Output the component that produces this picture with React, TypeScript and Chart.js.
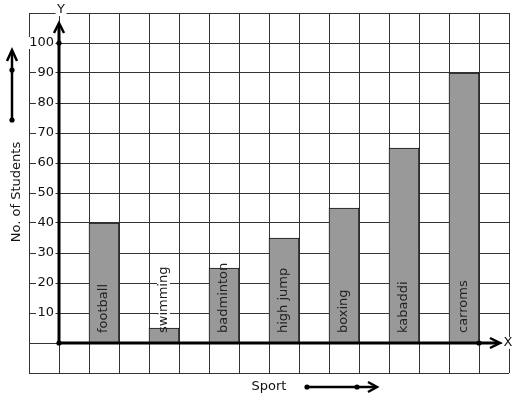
import { useEffect, useRef } from 'react';
import { Chart, registerables } from 'chart.js';

Chart.register(...registerables);

const sports = ['football', 'swimming', 'badminton', 'high jump', 'boxing', 'kabaddi', 'carroms'];
const students = [40, 5, 25, 35, 45, 65, 90];
const yTickValues = [10, 20, 30, 40, 50, 60, 70, 80, 90, 100];
const yAxisTitle = 'No. of Students';
const xAxisTitle = 'Sport';

export default function App() {
  const ref = useRef<HTMLCanvasElement>(null);

  useEffect(() => {
    const FONT = '13px "DejaVu Sans"';
    const INK = '#111';

    const paper = {
      id: 'paper',
      beforeDatasetsDraw(chart: any) {
        // white backdrops behind bar labels (covered by bars where they overlap)
        const ctx = chart.ctx as CanvasRenderingContext2D;
        const xs = chart.scales.x;
        const ys = chart.scales.y;
        const y0 = Math.round(ys.getPixelForValue(0));
        ctx.save();
        ctx.font = FONT;
        ctx.fillStyle = '#fff';
        sports.forEach((s, i) => {
          const cx = xs.getPixelForValue(2 * i + 1.5);
          const w = ctx.measureText(s).width;
          ctx.fillRect(cx - 7, y0 - 10 - w - 1, 13, w + 2);
        });
        ctx.restore();
      },
      afterDraw(chart: any) {
        const ctx = chart.ctx as CanvasRenderingContext2D;
        const xs = chart.scales.x;
        const ys = chart.scales.y;
        const x0 = Math.round(xs.getPixelForValue(0));
        const y0 = Math.round(ys.getPixelForValue(0));
        ctx.save();
        ctx.font = FONT;
        ctx.fillStyle = INK;
        ctx.strokeStyle = '#000';
        ctx.lineCap = 'butt';
        ctx.lineJoin = 'miter';

        const poly = (pts: number[][], w: number) => {
          ctx.beginPath();
          ctx.moveTo(pts[0][0], pts[0][1]);
          for (let i = 1; i < pts.length; i++) ctx.lineTo(pts[i][0], pts[i][1]);
          ctx.lineWidth = w;
          ctx.stroke();
        };
        const dot = (x: number, y: number) => {
          ctx.beginPath();
          ctx.arc(x, y, 2.6, 0, Math.PI * 2);
          ctx.fillStyle = '#000';
          ctx.fill();
        };
        const backText = (t: string, x: number, y: number, align: CanvasTextAlign) => {
          ctx.textAlign = align;
          ctx.textBaseline = 'middle';
          const w = ctx.measureText(t).width;
          let left = x;
          if (align === 'right') left = x - w;
          else if (align === 'center') left = x - w / 2;
          ctx.fillStyle = '#fff';
          ctx.fillRect(left - 1.5, y - 6, w + 3, 12);
          ctx.fillStyle = INK;
          ctx.fillText(t, x, y);
        };

        // y tick labels with white backdrop
        yTickValues.forEach((v) => {
          backText(String(v), x0 - 5, ys.getPixelForValue(v), 'right');
        });

        // bar labels, rotated
        sports.forEach((s, i) => {
          const cx = xs.getPixelForValue(2 * i + 1.5);
          ctx.save();
          ctx.translate(cx + 3, y0 - 10);
          ctx.rotate(-Math.PI / 2);
          ctx.textAlign = 'left';
          ctx.textBaseline = 'alphabetic';
          ctx.fillStyle = '#222';
          ctx.fillText(s, 0, 0);
          ctx.restore();
        });

        // axis letters
        backText('Y', x0 + 2, ys.top - 3, 'center');
        backText('X', xs.right - 1, y0, 'center');

        // thick axes
        const yTop = ys.getPixelForValue(100) - 20;
        const xEnd = xs.getPixelForValue(14) + 21;
        poly([[x0, y0], [x0, yTop + 1]], 3);
        poly([[x0 - 5, yTop + 10], [x0, yTop], [x0 + 5, yTop + 10]], 2.5);
        poly([[x0, y0], [xEnd - 1, y0]], 3);
        poly([[xEnd - 10, y0 - 5], [xEnd, y0], [xEnd - 10, y0 + 5]], 2.5);
        dot(x0, y0);
        dot(x0, ys.getPixelForValue(100));
        dot(xs.getPixelForValue(14), y0);

        // y title with arrow
        ctx.save();
        ctx.translate(20, 192);
        ctx.rotate(-Math.PI / 2);
        ctx.textAlign = 'center';
        ctx.textBaseline = 'alphabetic';
        ctx.fillStyle = INK;
        ctx.fillText(yAxisTitle, 0, 0);
        ctx.restore();
        poly([[12, 120], [12, 51]], 2.5);
        poly([[7, 61], [12, 50], [17, 61]], 2.5);
        dot(12, 70);
        dot(12, 120);

        // x title with arrow
        ctx.textAlign = 'center';
        ctx.textBaseline = 'alphabetic';
        ctx.fillStyle = INK;
        ctx.fillText(xAxisTitle, 269, 390);
        poly([[307, 387], [376, 387]], 2.5);
        poly([[368, 382], [377, 387], [368, 392]], 2.5);
        dot(307, 387);
        dot(357, 387);

        ctx.restore();
      },
    };

    const chart = new Chart(ref.current as HTMLCanvasElement, {
      type: 'bar',
      data: {
        datasets: [
          {
            data: sports.map((s, i) => ({ x: 2 * i + 1.5, y: students[i] })),
            backgroundColor: '#999999',
            borderColor: '#111',
            borderWidth: 1,
            categoryPercentage: 1,
            barPercentage: 1,
          },
        ],
      },
      options: {
        animation: false,
        responsive: false,
        devicePixelRatio: 1,
        layout: { padding: { left: 29, top: 13, right: 8, bottom: 26 } },
        plugins: { legend: { display: false }, tooltip: { enabled: false } },
        scales: {
          x: {
            type: 'linear',
            min: -1,
            max: 15,
            offset: false,
            ticks: { display: false, stepSize: 1 },
            grid: { color: '#333', drawTicks: false, offset: false, lineWidth: 1 },
            border: { display: false },
          },
          y: {
            type: 'linear',
            min: -10,
            max: 110,
            beginAtZero: false,
            ticks: { display: false, stepSize: 10 },
            grid: { color: '#333', drawTicks: false, lineWidth: 1 },
            border: { display: false },
          },
        },
      },
      plugins: [paper],
    } as any);
    return () => chart.destroy();
  }, []);

  return (
    <div style={{ position: 'fixed', left: 0, top: 0, width: 517, height: 399, background: '#fff' }}>
      <canvas ref={ref} width={517} height={399} style={{ display: 'block', width: 517, height: 399 }} />
    </div>
  );
}
